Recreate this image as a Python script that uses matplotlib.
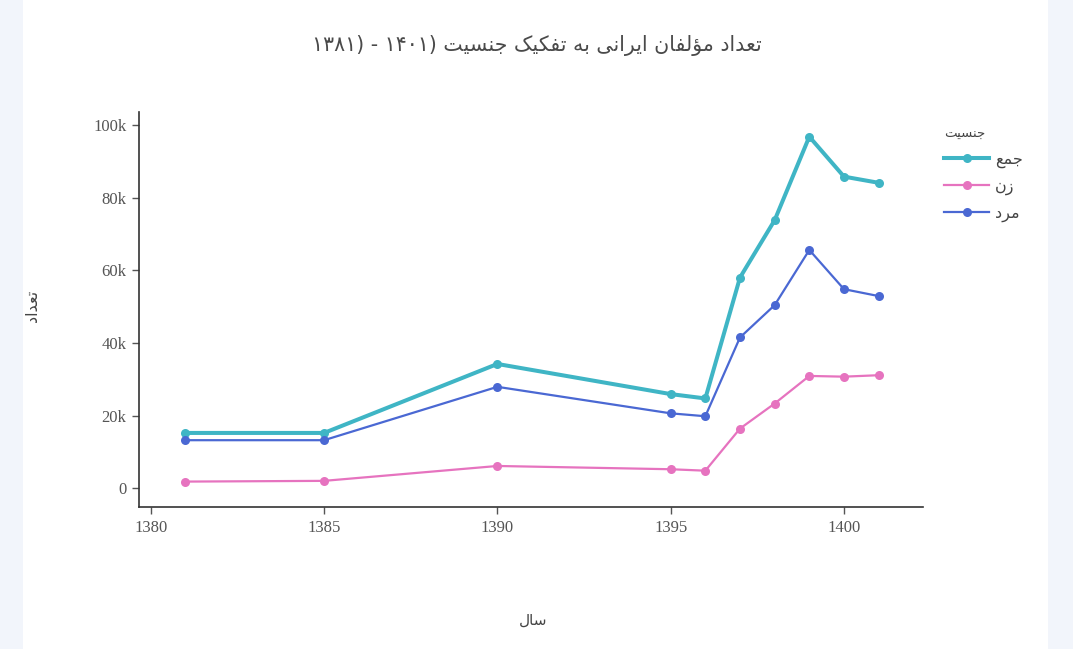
import matplotlib
matplotlib.use("Agg")
import matplotlib.pyplot as plt
from matplotlib.patches import Rectangle
from matplotlib.lines import Line2D
from matplotlib.ticker import FuncFormatter

# ---------------- data ----------------
years = [1381, 1385, 1390, 1395, 1396, 1397, 1398, 1399, 1400, 1401]
total = [15200, 15200, 34200, 25900, 24700, 58000, 73800, 96800, 85800, 84100]
women = [1800, 2000, 6100, 5200, 4800, 16400, 23300, 30900, 30700, 31100]
men = [13200, 13200, 27900, 20600, 19800, 41500, 50400, 65600, 54800, 52900]
series_names = ["جمع", "زن", "مرد"]
x_ticks = [1380, 1385, 1390, 1395, 1400]
y_ticks = [0, 20000, 40000, 60000, 80000, 100000]
title_text = "تعداد مؤلفان ایرانی به تفکیک جنسیت (۱۴۰۱ - (۱۳۸۱"
x_label = "سال"
y_label = "تعداد"
legend_title = "جنسیت"

# ---------------- minimal Persian shaping ----------------
FORMS = {  # iso, fin, ini, med
    "ا": ("\uFE8D", "\uFE8E", None, None),
    "د": ("\uFEA9", "\uFEAA", None, None),
    "ر": ("\uFEAD", "\uFEAE", None, None),
    "ز": ("\uFEAF", "\uFEB0", None, None),
    "ؤ": ("\uFE85", "\uFE86", None, None),
    "و": ("\uFEED", "\uFEEE", None, None),
    "ب": ("\uFE8F", "\uFE90", "\uFE91", "\uFE92"),
    "ت": ("\uFE95", "\uFE96", "\uFE97", "\uFE98"),
    "ج": ("\uFE9D", "\uFE9E", "\uFE9F", "\uFEA0"),
    "س": ("\uFEB1", "\uFEB2", "\uFEB3", "\uFEB4"),
    "ع": ("\uFEC9", "\uFECA", "\uFECB", "\uFECC"),
    "ف": ("\uFED1", "\uFED2", "\uFED3", "\uFED4"),
    "ل": ("\uFEDD", "\uFEDE", "\uFEDF", "\uFEE0"),
    "م": ("\uFEE1", "\uFEE2", "\uFEE3", "\uFEE4"),
    "ن": ("\uFEE5", "\uFEE6", "\uFEE7", "\uFEE8"),
    "ه": ("\uFEE9", "\uFEEA", "\uFEEB", "\uFEEC"),
    "ک": ("\uFB8E", "\uFB8F", "\uFB90", "\uFB91"),
    "ی": ("\uFBFC", "\uFBFD", "\uFBFE", "\uFBFF"),
}
MIRROR = {"(": ")", ")": "("}


def shape(text):
    out = []
    n = len(text)
    for i, c in enumerate(text):
        if c not in FORMS:
            out.append(c)
            continue
        iso, fin, ini, med = FORMS[c]
        prev = text[i - 1] if i > 0 else ""
        nxt = text[i + 1] if i + 1 < n else ""
        jp = prev in FORMS and FORMS[prev][2] is not None
        jn = ini is not None and nxt in FORMS
        if jp and jn:
            out.append(med)
        elif jp:
            out.append(fin)
        elif jn:
            out.append(ini)
        else:
            out.append(iso)
    return "".join(out)


def rtl(text):
    s = shape(text)
    runs, cur, isdig = [], "", None
    for c in s:
        d = c.isdigit()
        if cur and d != isdig:
            runs.append((cur, isdig))
            cur = ""
        cur += c
        isdig = d
    if cur:
        runs.append((cur, isdig))
    vis = []
    for r, d in reversed(runs):
        if d:
            vis.append(r)
        else:
            vis.append("".join(MIRROR.get(ch, ch) for ch in reversed(r)))
    return "".join(vis)


FA = ["DejaVu Sans"]
SERIF = ["Liberation Serif", "DejaVu Serif"]

colors = ["#3fb5c5", "#e673bf", "#4a68d3"]
widths = [2.9, 1.6, 1.6]
data = [total, women, men]

# ---------------- figure ----------------
fig = plt.figure(figsize=(10.73, 6.49), dpi=100)
fig.patch.set_facecolor("white")
fig.patches.append(Rectangle((0, 0), 23 / 1073, 1, transform=fig.transFigure,
                             facecolor="#f2f5fb", edgecolor="none", zorder=-10))
fig.patches.append(Rectangle((1048 / 1073, 0), 25 / 1073, 1, transform=fig.transFigure,
                             facecolor="#f2f5fb", edgecolor="none", zorder=-10))

ax = fig.add_axes([139 / 1073, 1 - 507 / 649, (923 - 139) / 1073, (507 - 112) / 649])
ax.set_facecolor("white")

handles = []
for vals, col, lw, name in zip(data, colors, widths, series_names):
    ax.plot(years, vals, color=col, lw=lw, marker="o", ms=6.5,
            markeredgewidth=0, solid_capstyle="round", solid_joinstyle="round")
    handles.append(Line2D([], [], color=col, lw=lw, marker="o", ms=6.5,
                          markeredgewidth=0, label=rtl(name)))

ax.set_xlim(1379.66, 1402.28)
ax.set_ylim(-5200, 103600)
ax.set_xticks(x_ticks)
ax.set_yticks(y_ticks)
ax.yaxis.set_major_formatter(FuncFormatter(lambda v, p: "0" if v == 0 else f"{int(v/1000)}k"))

for s in ["top", "right"]:
    ax.spines[s].set_visible(False)
for s in ["left", "bottom"]:
    ax.spines[s].set_color("#333333")
    ax.spines[s].set_linewidth(1.2)
ax.tick_params(axis="both", direction="out", length=5, width=1, color="#555555",
               labelcolor="#555555", labelsize=12, pad=4)
for lab in ax.get_xticklabels() + ax.get_yticklabels():
    lab.set_family(SERIF)

fig.text(0.5, 1 - 45 / 649, rtl(title_text), ha="center", va="center",
         fontsize=14.8, color="#4a4a4a", family=FA)
fig.text(533 / 1073, 1 - 620 / 649, rtl(x_label), ha="center", va="center",
         fontsize=11, color="#444444", family=FA)
fig.text(33 / 1073, 1 - 306 / 649, rtl(y_label), ha="center", va="center",
         rotation=90, fontsize=11.5, color="#444444", family=FA)

leg = fig.legend(handles=handles, loc="upper left",
                 bbox_to_anchor=(930 / 1073, 1 - 113 / 649), frameon=False,
                 title=rtl(legend_title), alignment="left", handlelength=2.8,
                 handletextpad=0.35, labelspacing=0.68, numpoints=1,
                 prop={"family": FA, "size": 11.5},
                 title_fontproperties={"family": FA, "size": 9.5})
leg.get_title().set_color("#444444")
for t in leg.get_texts():
    t.set_color("#444444")

fig.savefig("out.png", dpi=100)
